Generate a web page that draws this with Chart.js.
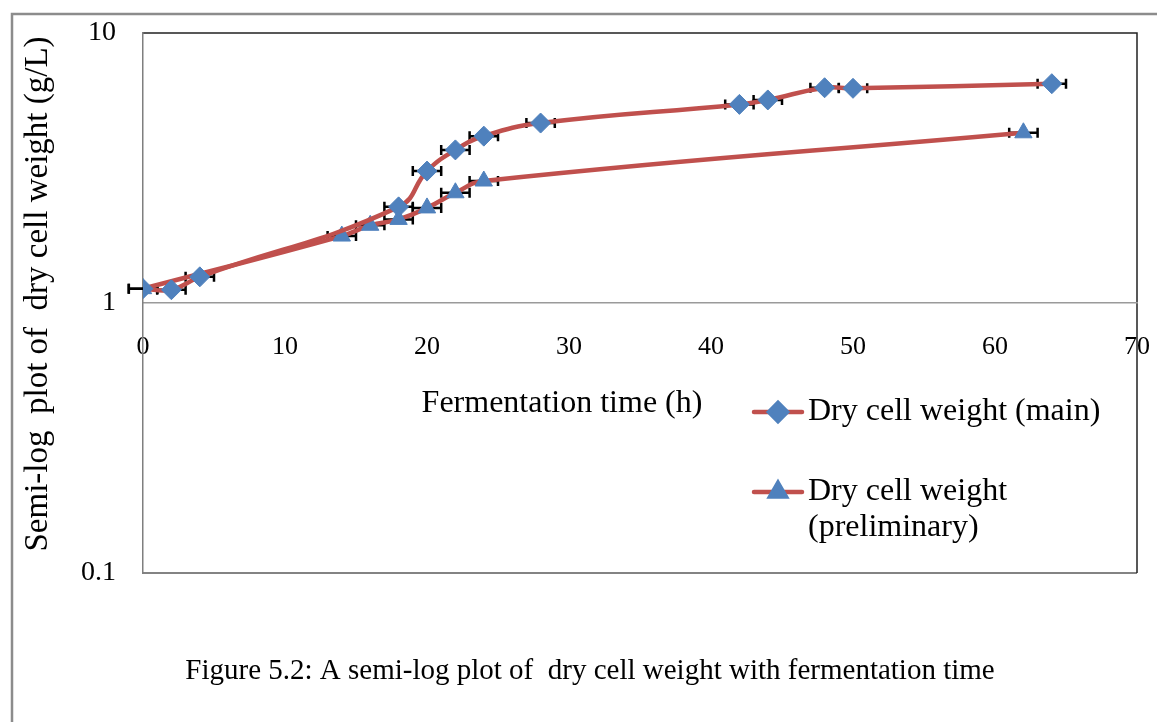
<!DOCTYPE html>
<html>
<head>
<meta charset="utf-8">
<script src="https://cdn.jsdelivr.net/npm/chart.js@4.4.1/dist/chart.umd.min.js"></script>
<style>
  body { margin: 0; background: #fff; }
  canvas { display: block; }
</style>
</head>
<body>
<canvas id="dcwChart" width="1157" height="722"></canvas>
<script>
// fermentation time (h) and dry cell weight (g/L)
const mainHours = [0, 2, 4, 18, 20, 22, 24, 28, 42, 44, 48, 50, 64];
const mainDcw = [1.13, 1.12, 1.25, 2.27, 3.08, 3.69, 4.15, 4.64, 5.44, 5.65, 6.27, 6.24, 6.49];
const mainErr = [1, 1, 1, 1, 1, 1, 1, 1, 1, 1, 1, 1, 1];

const prelimHours = [0, 14, 16, 18, 20, 22, 24, 62];
const prelimDcw = [1.13, 1.77, 1.94, 2.04, 2.25, 2.56, 2.83, 4.27];
const prelimErr = [1, 1, 1, 1, 1, 1, 1, 1];

const yTicks = [0.1, 1, 10];
const seriesNames = ['Dry cell weight (main)', ['Dry cell weight', '(preliminary)']];

const serif = '"Liberation Serif", "Times New Roman", serif';
const lineRed = '#C0504D';
const markBlue = '#4F81BD';

function toPoints(xs, ys) {
    return xs.map(function(x, i){ return {x: x, y: ys[i]}; });
}

function drawMarker(ctx, style, x, y, r) {
    if (Chart.helpers && Chart.helpers.drawPoint) {
        Chart.helpers.drawPoint(ctx, {pointStyle: style, radius: r, rotation: 0, borderWidth: 1}, x, y);
        return;
    }
    ctx.beginPath();
    if (style === 'rectRot') {
        ctx.moveTo(x, y - r); ctx.lineTo(x + r, y); ctx.lineTo(x, y + r); ctx.lineTo(x - r, y);
    } else {
        ctx.moveTo(x, y - r); ctx.lineTo(x + r * 0.866, y + r / 2); ctx.lineTo(x - r * 0.866, y + r / 2);
    }
    ctx.closePath();
    ctx.fill();
}

// horizontal error bars, drawn under the lines
const errorBars = {
    id: 'errorBars',
    beforeDatasetsDraw: function(chart) {
        const ctx = chart.ctx;
        const xs = chart.scales.x;
        ctx.save();
        ctx.strokeStyle = '#000';
        ctx.lineWidth = 2.5;
        chart.data.datasets.forEach(function(ds, i){
            const meta = chart.getDatasetMeta(i);
            ds.data.forEach(function(p, j){
                const y = meta.data[j].y;
                const x0 = xs.getPixelForValue(p.x - ds.xErr[j]);
                const x1 = xs.getPixelForValue(p.x + ds.xErr[j]);
                ctx.beginPath();
                ctx.moveTo(x0, y); ctx.lineTo(x1, y);
                ctx.moveTo(x0, y - 5); ctx.lineTo(x0, y + 5);
                ctx.moveTo(x1, y - 5); ctx.lineTo(x1, y + 5);
                ctx.stroke();
            });
        });
        ctx.restore();
    }
};

const frameAndText = {
    id: 'frameAndText',
    beforeDraw: function(chart) {
        const ctx = chart.ctx;
        const a = chart.chartArea;
        ctx.save();
        ctx.fillStyle = '#fff';
        ctx.fillRect(0, 0, chart.width, chart.height);
        // outer figure frame
        ctx.strokeStyle = '#8c8c8c';
        ctx.lineWidth = 2.5;
        ctx.beginPath();
        ctx.moveTo(12, chart.height); ctx.lineTo(12, 14); ctx.lineTo(chart.width, 14);
        ctx.stroke();
        // plot box
        ctx.lineWidth = 1.5;
        ctx.strokeStyle = '#5a5a5a';
        ctx.beginPath();
        ctx.moveTo(a.left, a.bottom); ctx.lineTo(a.right, a.bottom);
        ctx.stroke();
        ctx.strokeStyle = '#222';
        ctx.beginPath();
        ctx.moveTo(a.left, a.top); ctx.lineTo(a.right, a.top); ctx.lineTo(a.right, a.bottom);
        ctx.stroke();
        ctx.restore();
    },
    afterDraw: function(chart) {
        const ctx = chart.ctx;
        ctx.save();
        ctx.fillStyle = '#000';
        ctx.textAlign = 'center';
        ctx.textBaseline = 'middle';
        ctx.font = '32px ' + serif;
        ctx.fillText('Fermentation time (h)', 562, 404);

        ctx.save();
        ctx.translate(38, 294);
        ctx.rotate(-Math.PI / 2);
        ctx.font = '33px ' + serif;
        ctx.fillText('Semi-log  plot of  dry cell weight (g/L)', 0, 0);
        ctx.restore();

        ctx.font = '29px ' + serif;
        ctx.fillText('Figure 5.2: A semi-log plot of  dry cell weight with fermentation time', 590, 671);

        // legend
        const rows = [412, 492];
        chart.data.datasets.forEach(function(ds, i){
            const y = rows[i];
            ctx.strokeStyle = lineRed;
            ctx.lineWidth = 4.5;
            ctx.lineCap = 'round';
            ctx.beginPath();
            ctx.moveTo(754, y); ctx.lineTo(802, y);
            ctx.stroke();
            ctx.fillStyle = markBlue;
            ctx.strokeStyle = markBlue;
            drawMarker(ctx, ds.pointStyle, 778, y, 9);
            ctx.fillStyle = '#000';
            ctx.textAlign = 'left';
            ctx.font = '32px ' + serif;
            const lines = Array.isArray(seriesNames[i]) ? seriesNames[i] : [seriesNames[i]];
            lines.forEach(function(t, k){
                ctx.fillText(t, 808, y + k * 36);
            });
        });
        ctx.restore();
    }
};

function seriesStyle(style) {
    return {
        showLine: true,
        borderColor: lineRed,
        borderWidth: 4.5,
        tension: 0.45,
        pointStyle: style,
        pointRadius: 10,
        pointHoverRadius: 10,
        pointBackgroundColor: markBlue,
        pointBorderColor: markBlue,
        pointBorderWidth: 1
    };
}

const dt = {
    datasets: [
        Object.assign({label: 'Dry cell weight (main)', data: toPoints(mainHours, mainDcw), xErr: mainErr}, seriesStyle('rectRot')),
        Object.assign({label: 'Dry cell weight (preliminary)', data: toPoints(prelimHours, prelimDcw), xErr: prelimErr}, seriesStyle('triangle'))
    ]
};

const config_dcw = {
    type: 'scatter',
    data: dt,
    plugins: [frameAndText, errorBars],
    options: {
        responsive: false,
        animation: false,
        devicePixelRatio: 1,
        layout: { padding: { left: 0, top: 33, right: 20, bottom: 149 } },
        plugins: { legend: { display: false }, tooltip: { enabled: false } },
        scales: {
            x: {
                type: 'linear',
                min: 0,
                max: 70,
                position: { y: 1 },
                grid: { display: false, drawTicks: false },
                border: { display: true, color: '#9a9a9a', width: 1.5 },
                afterFit: function(scale){ scale.paddingLeft = 0; scale.paddingRight = 0; },
                ticks: { stepSize: 10, padding: 29, color: '#000', font: { family: serif, size: 26 } }
            },
            y: {
                type: 'logarithmic',
                min: 0.1,
                max: 10,
                position: 'left',
                grid: { display: false, drawTicks: false },
                border: { display: true, color: '#7f7f7f', width: 1.5 },
                afterBuildTicks: function(scale){
                    scale.ticks = yTicks.map(function(v){ return {value: v}; });
                },
                afterFit: function(scale){ scale.width = 143; scale.paddingTop = 0; scale.paddingBottom = 0; },
                ticks: {
                    padding: 27,
                    color: '#000',
                    font: { family: serif, size: 28 },
                    callback: function(v){ return String(v); }
                }
            }
        }
    }
};

const dcwChart = new Chart(document.getElementById('dcwChart'), config_dcw);
</script>
</body>
</html>
